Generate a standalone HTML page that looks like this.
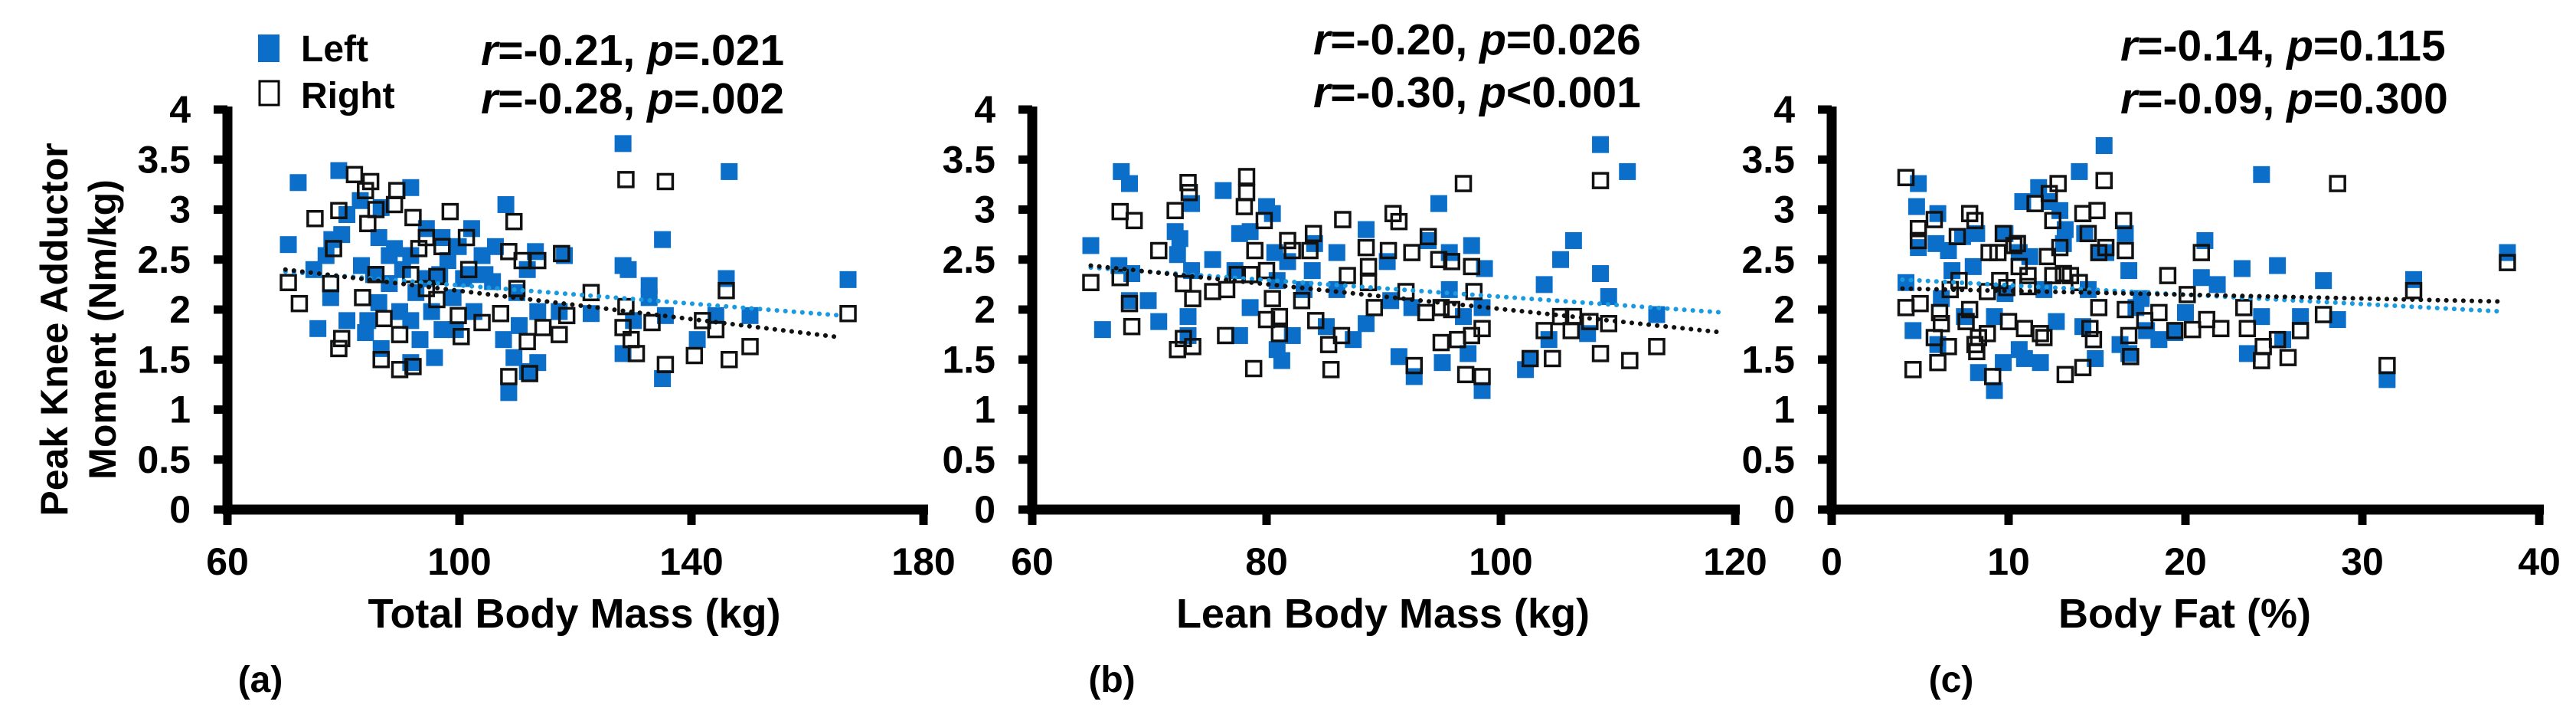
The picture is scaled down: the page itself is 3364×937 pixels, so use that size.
<!DOCTYPE html>
<html><head><meta charset="utf-8">
<style>
html,body{margin:0;padding:0;background:#fff;}
svg{display:block;font-family:"Liberation Sans",sans-serif;font-weight:bold;}
</style></head>
<body>
<svg id="fig" width="3364" height="937" viewBox="0 0 3364 937">
<g id="static">
  <rect x="337" y="45" width="28" height="36" fill="#0b6fca"/>
  <text x="393" y="80" font-size="48">Left</text>
  <rect x="339" y="106" width="25" height="31" fill="none" stroke="#000" stroke-width="3"/>
  <text x="393" y="141" font-size="48">Right</text>
  <g font-size="50">
    <text transform="translate(88,430) rotate(-90)" text-anchor="middle">Peak Knee Adductor</text>
    <text transform="translate(151,430) rotate(-90)" text-anchor="middle">Moment (Nm/kg)</text>
  </g>
</g>
<g id="panels"></g>
<script>
// ---- Panel (a): Total Body Mass ----
const aLeftX=[70.5,72.2,79.2,74.9,75.6,77.8,78.0,79.7,82.9,83.1,84.2,83.8,86.1,86.5,86.5,87.9,88.8,89.7,90.2,91.6,91.6,92.5,93.2,94.3,95.2,95.7,96.6,98.0,98.9,99.3,100.7,102.1,102.5,103.9,105.7,106.2,108.0,107.6,108.5,109.9,110.3,109.4,111.7,113.5,113.1,118.1,117.2,122.7,128.2,128.2,129.1,128.2,130.0,132.7,132.7,135.0,135.0,135.5,141.0,144.2,146.0,146.5,150.1,167,80.6,85.2,87.9,91.6,94.3,97,99.8,101.6,86.1,91.6,97,80.6,77,104.4,113.5,111.7];
const aLeftY=[2.65,3.27,3.39,2.40,1.81,2.12,2.70,2.75,3.09,2.44,1.89,1.77,2.72,3.02,1.61,2.26,2.61,1.98,2.40,3.22,1.47,2.17,1.70,2.81,1.98,1.52,2.35,2.49,2.12,1.80,2.31,2.81,1.98,2.54,2.28,2.63,3.05,1.70,1.17,2.17,1.84,1.52,1.38,1.47,2.58,2.54,1.98,1.96,3.66,2.44,2.40,1.56,1.89,2.24,2.12,2.70,1.31,1.94,1.70,1.94,2.31,3.38,1.94,2.3,2.95,2.35,2.54,2.54,2.31,2.72,2.63,2.35,2.07,1.89,1.80,1.89,2.54,2.35,1.98,2.4];
const aRightX=[70.5,72.4,75.1,79.2,78.3,77.8,79.2,79.7,81.9,84.7,83.8,84.2,85.6,88.8,89.2,92.0,85.6,83.3,86.5,87.0,89.7,92.0,89.7,91.6,93.0,94.3,94.3,96.1,97.0,98.4,96.1,100.3,99.8,101.6,101.2,103.9,107.1,108.5,109.4,108.5,109.9,110.8,111.7,112.1,113.5,114.4,117.2,118.5,117.6,122.7,128.2,128.7,128.7,130.5,129.6,133.2,135.5,135.5,140.5,141.9,144.2,146.0,146.5,150.1,167];
const aRightY=[2.27,2.06,2.91,2.99,2.61,2.26,1.61,1.71,3.35,3.28,3.19,2.86,3.0,3.05,3.19,2.92,2.35,2.12,1.5,1.91,1.4,1.43,1.75,2.35,2.61,2.72,2.21,2.1,2.63,2.98,2.33,1.73,1.94,2.4,2.72,1.87,1.96,2.58,2.88,1.33,2.21,2.49,1.68,1.36,2.49,1.82,1.75,1.94,2.56,2.17,1.82,3.30,2.03,1.56,1.70,1.87,3.28,1.45,1.54,1.89,1.80,2.19,1.50,1.63,1.96];
const aTrendLeft=[[70,2.38],[166,1.94]];
const aTrendRight=[[70,2.40],[166,1.72]];
const aTicks=[60,100,140,180];

// ---- Panel (b): Lean Body Mass ----
const bLeftX=[65.0,66.0,67.6,68.3,67.4,68.5,68.3,69.9,70.8,72.2,72.6,72.4,73.6,73.6,73.3,73.3,75.4,76.3,77.3,77.7,77.7,78.6,78.6,80.0,80.5,80.7,80.9,80.9,81.3,81.8,82.2,83.2,83.9,84.1,85.1,86.0,86.0,87.4,88.5,88.5,90.3,90.6,91.3,92.4,92.6,93.8,94.7,95.0,95.6,95.6,96.8,97.2,97.5,98.6,98.4,98.4,102.1,102.5,103.7,104.1,105.1,106.2,107.4,108.5,108.5,109.2,110.8,113.3];
const bLeftY=[2.64,1.80,3.38,3.26,2.44,2.36,2.09,2.09,1.88,2.78,2.71,2.55,3.06,2.39,1.93,1.74,2.50,3.19,2.39,1.74,2.76,2.02,2.78,3.03,2.96,2.57,2.29,1.6,1.49,2.48,1.74,2.2,2.39,2.66,1.83,2.57,2.2,1.7,2.8,1.86,2.48,2.09,1.53,2.02,1.33,2.69,3.06,1.47,2.57,2.2,1.93,1.56,2.64,2.41,1.19,2.02,1.4,1.51,2.25,1.70,2.5,2.69,1.76,3.65,2.36,2.13,3.38,1.95];
const bRightX=[65.0,67.5,68.7,67.5,68.5,68.3,70.8,72.2,72.4,72.9,73.3,73.4,72.9,73.7,73.7,75.4,76.6,76.5,78.3,78.3,78.1,79.0,78.9,77.5,78.6,79.8,80.0,80.0,80.5,81.1,81.1,81.8,82.2,83.0,83.7,84.0,84.2,85.5,85.3,86.4,86.5,86.9,88.5,88.7,88.7,89.2,90.4,90.8,91.3,91.9,92.4,92.6,93.8,93.6,94.7,94.9,94.9,95.8,95.8,96.3,96.8,97.0,97.5,97.5,97.7,98.4,98.4,102.5,103.7,104.4,105.1,106.0,106.2,107.6,108.5,108.5,109.2,111.0,113.3];
const bRightY=[2.27,2.98,2.89,2.32,1.83,2.06,2.59,2.99,1.6,1.71,3.27,3.17,2.26,2.11,1.63,2.18,2.2,1.74,3.33,3.17,3.03,2.59,1.41,2.35,2.35,2.89,1.9,2.39,2.11,1.93,1.76,2.69,2.59,2.09,2.59,2.76,1.89,1.40,1.65,1.74,2.9,2.34,2.62,2.43,2.27,2.02,2.59,2.96,2.88,2.18,2.57,1.44,2.73,1.97,2.5,2.02,1.67,2.48,2.0,1.7,3.26,1.35,2.43,1.74,2.18,1.33,1.81,1.51,1.79,1.51,1.93,1.79,1.93,1.88,3.29,1.56,1.86,1.49,1.63];
const bTrendLeft=[[65,2.42],[119,1.97]];
const bTrendRight=[[65,2.44],[119,1.77]];
const bTicks=[60,80,100,120];

// ---- Panel (c): Body Fat ----
const cLeftX=[4.2,4.6,4.9,4.8,4.9,6.0,5.9,6.2,6.0,6.6,6.8,7.4,7.5,8.0,8.2,8.3,9.2,9.2,9.7,9.8,9.8,10.6,10.6,10.8,10.9,11.2,11.7,12.0,11.8,12.3,12.7,12.9,13.1,13.2,14.0,14.2,14.3,14.5,14.9,15.1,15.4,15.5,16.3,16.6,16.8,16.8,17.2,17.5,17.8,18.5,19.4,20.0,20.9,21.1,21.8,23.2,23.5,24.3,24.3,25.2,25.5,26.5,27.8,28.6,31.4,32.9,38.2];
const cLeftY=[2.27,1.79,3.26,3.03,2.62,2.96,2.66,2.11,1.65,2.59,2.39,2.73,1.93,2.43,2.76,1.37,1.19,1.93,1.47,2.76,2.16,2.57,1.6,3.08,1.51,2.53,3.22,2.2,1.47,3.08,1.88,2.99,2.66,2.8,3.38,1.83,2.76,2.2,1.51,2.57,3.64,2.57,1.65,2.76,2.39,1.56,2.02,2.11,1.79,1.7,1.77,1.97,2.32,2.69,2.25,2.41,1.56,3.35,1.93,2.44,1.7,1.93,2.29,1.9,1.3,2.3,2.57];
const cRightX=[4.2,4.2,4.6,4.9,4.9,5.0,5.8,5.8,6.0,6.1,6.2,6.6,6.7,7.1,7.2,7.6,7.8,8.1,7.8,8.1,8.2,8.3,8.8,8.9,9.1,8.8,9.4,9.5,9.7,9.9,10.0,10.3,10.5,10.6,10.9,11.1,11.1,11.5,11.8,12.0,12.2,12.3,12.5,12.5,12.8,12.9,13.1,13.2,13.5,14.0,14.2,14.2,14.5,14.6,14.8,15.0,15.1,15.1,15.4,15.5,16.5,16.6,16.6,16.8,16.9,17.7,18.5,19.0,19.4,20.1,20.4,20.9,21.2,22.0,23.3,23.5,24.3,24.4,25.2,25.8,26.5,27.8,28.6,31.4,32.9,38.2];
const cRightY=[3.32,2.02,1.4,2.81,2.69,2.06,2.9,1.72,1.47,1.97,1.86,1.63,2.2,2.73,2.29,1.88,2.96,2.89,2.0,1.65,1.58,1.72,2.18,2.57,1.33,1.76,2.57,2.29,2.76,2.22,1.88,2.64,2.66,2.43,1.81,2.34,2.23,3.06,1.76,1.72,2.53,3.16,2.89,2.34,3.26,2.62,2.36,1.35,2.34,2.27,1.42,2.96,2.76,1.81,1.7,2.99,2.57,2.02,3.29,2.62,2.89,2.59,2.0,1.74,1.53,1.89,1.97,2.34,1.79,2.15,1.8,2.57,1.9,1.81,2.02,1.81,1.49,1.63,1.7,1.52,1.79,1.95,3.26,1.44,2.19,2.47];
const cTrendLeft=[[4,2.30],[38,1.98]];
const cTrendRight=[[4,2.21],[38,2.08]];
const cTicks=[0,10,20,30,40];

const yTicks=[0,0.5,1,1.5,2,2.5,3,3.5,4];
const yTickLabels=["0","0.5","1","1.5","2","2.5","3","3.5","4"];

const NS="http://www.w3.org/2000/svg";
const root=document.getElementById('panels');
function mk(tag,attrs,parent){const e=document.createElementNS(NS,tag);for(const k in attrs)e.setAttribute(k,attrs[k]);parent.appendChild(e);return e;}
const Y0=665,YTOP=143;
function yScale(v){return Y0-(Y0-YTOP)*v/4;}

function panel(id,ax0,axEnd,xmin,xmax,ticks,lx,ly,rx,ry,tl,tr,title,titleX,letter,letterX,stats,statsX,statsY){
  const g=mk('g',{},root);
  
  
  const xs=v=>ax0+(v-xmin)/(xmax-xmin)*(axEnd-ax0);
  const ya=mk('line',{x1:ax0,y1:YTOP-4,x2:ax0,y2:Y0+6,stroke:'#000','stroke-width':13},g);
  
  
  const xa=mk('line',{x1:ax0-6,y1:Y0,x2:axEnd+6,y2:Y0,stroke:'#000','stroke-width':13},g);
  
  
  yTicks.forEach((t,i)=>{
    const y=yScale(t);
    const tk=mk('line',{x1:ax0-18,y1:y,x2:ax0,y2:y,stroke:'#000','stroke-width':11},g);
    
    
    const tx=mk('text',{x:ax0-48,y:y+17,'text-anchor':'end','font-size':50},g);
    tx.textContent=yTickLabels[i];
    
    
  });
  ticks.forEach(t=>{
    const x=xs(t);
    const tk=mk('line',{x1:x,y1:Y0,x2:x,y2:Y0+20,stroke:'#000','stroke-width':11},g);
    
    
    const tx=mk('text',{x:x,y:Y0+85,'text-anchor':'middle','font-size':50},g);
    tx.textContent=String(t);
    
    
  });
  lx.forEach((v,i)=>{
    const r=mk('rect',{x:xs(v)-11,y:yScale(ly[i])-11,width:22,height:22,fill:'#0b6fca'},g);
    
    
  });
  rx.forEach((v,i)=>{
    const r=mk('rect',{x:xs(v)-9.5,y:yScale(ry[i])-9.5,width:19,height:19,fill:'none',stroke:'#111','stroke-width':3.5},g);
    
    
  });
  const t1=mk('line',{x1:xs(tl[0][0]),y1:yScale(tl[0][1]),x2:xs(tl[1][0]),y2:yScale(tl[1][1]),stroke:'#1a9ae0','stroke-width':6,'stroke-dasharray':'0.1 11','stroke-linecap':'round'},g);
  
  
  const t2=mk('line',{x1:xs(tr[0][0]),y1:yScale(tr[0][1]),x2:xs(tr[1][0]),y2:yScale(tr[1][1]),stroke:'#111','stroke-width':6,'stroke-dasharray':'0.1 11','stroke-linecap':'round'},g);
  
  
  const ti=mk('text',{x:titleX,y:819,'text-anchor':'middle','font-size':54},g);
  ti.textContent=title;
  
  
  const le=mk('text',{x:letterX,y:903,'text-anchor':'middle','font-size':48},g);
  le.textContent='('+letter+')';
  
  
  stats.forEach((s,i)=>{
    const st=mk('text',{x:statsX,y:statsY[i],'font-size':57},g);
    
    
    const a=mk('tspan',{'font-style':'italic'},st);a.textContent='r';
    const b=mk('tspan',{},st);b.textContent=s[0]+', ';
    const c=mk('tspan',{'font-style':'italic'},st);c.textContent='p';
    const d=mk('tspan',{},st);d.textContent=s[1];
  });
}
panel('a',297,1206,60,180,aTicks,aLeftX,aLeftY,aRightX,aRightY,aTrendLeft,aTrendRight,'Total Body Mass (kg)',750,'a',340,[['=-0.21','=.021'],['=-0.28','=.002']],628,[85,148]);
panel('b',1348,2266,60,120,bTicks,bLeftX,bLeftY,bRightX,bRightY,bTrendLeft,bTrendRight,'Lean Body Mass (kg)',1806,'b',1452,[['=-0.20','=0.026'],['=-0.30','<0.001']],1715,[71,140]);
panel('c',2392,3316,0,40,cTicks,cLeftX,cLeftY,cRightX,cRightY,cTrendLeft,cTrendRight,'Body Fat (%)',2853,'c',2548,[['=-0.14','=0.115'],['=-0.09','=0.300']],2769,[79,148]);
</script>
</svg>
</body></html>
